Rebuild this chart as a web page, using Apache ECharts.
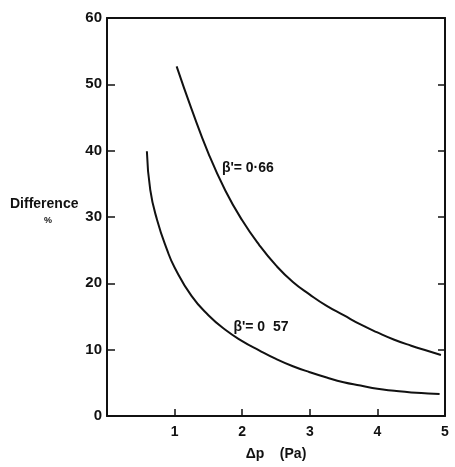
<!DOCTYPE html>
<html style="height: 100%">
<head>
<meta charset="utf-8">
</head>
<body style="height: 100%; margin: 0; background: #fff">
<div id="container" style="width: 455px; height: 467px"></div>
<script src="https://cdn.jsdelivr.net/npm/echarts@6/dist/echarts.min.js"></script>
<script>
// curve for beta' = 0.66
var upperX = [1.03, 1.25, 1.5, 1.75, 2.0, 2.25, 2.5, 2.75, 3.0, 3.25, 3.5, 3.75, 4.0, 4.25, 4.5, 4.75, 4.94];
var upperY = [52.7, 46.3, 39.6, 34.0, 29.5, 25.8, 22.7, 20.2, 18.3, 16.6, 15.2, 13.8, 12.6, 11.5, 10.6, 9.8, 9.2];
// curve for beta' = 0.57
var lowerX = [0.59, 0.64, 0.74, 0.89, 1.0, 1.25, 1.5, 1.75, 2.0, 2.25, 2.5, 2.75, 3.0, 3.25, 3.5, 3.75, 4.0, 4.25, 4.5, 4.75, 4.92];
var lowerY = [39.9, 34.1, 29.6, 25.0, 22.4, 18.1, 15.2, 13.0, 11.3, 9.9, 8.6, 7.5, 6.6, 5.8, 5.1, 4.6, 4.1, 3.8, 3.55, 3.4, 3.3];
var xTicks = [1, 2, 3, 4, 5];
var yTicks = [0, 10, 20, 30, 40, 50, 60];

function pairs(xs, ys) {
    var res = [];
    for (var i = 0; i < xs.length; i++) res.push([xs[i], ys[i]]);
    return res;
}

var font = 'Liberation Sans';
var myChart = echarts.init(document.getElementById('container'));

var axisLine = {show: true, onZero: false, lineStyle: {color: '#111', width: 2}};
var tickStyle = {color: '#111', width: 1.5};

var option = {
    backgroundColor: '#fff',
    animation: false,
    grid: {left: 107, right: 10, top: 18, bottom: 51},
    xAxis: [{
        type: 'value', min: 0, max: 5, interval: 1,
        axisLine: axisLine,
        axisTick: {show: true, inside: true, length: 7, lineStyle: tickStyle},
        splitLine: {show: false},
        axisLabel: {
            color: '#111', fontFamily: font, fontWeight: 'bold', fontSize: 14, margin: 9,
            formatter: function (v) { return xTicks.indexOf(v) >= 0 ? String(v) : ''; }
        },
        name: 'Δp    (Pa)', nameLocation: 'middle', nameGap: 31,
        nameTextStyle: {color: '#111', fontFamily: font, fontWeight: 'bold', fontSize: 14}
    }, {
        type: 'value', min: 0, max: 5, position: 'top',
        axisLine: axisLine, axisTick: {show: false}, axisLabel: {show: false}, splitLine: {show: false}
    }],
    yAxis: [{
        type: 'value', min: 0, max: 60, interval: 10,
        axisLine: axisLine,
        axisTick: {show: true, inside: true, length: 8, lineStyle: tickStyle},
        splitLine: {show: false},
        axisLabel: {
            color: '#111', fontFamily: font, fontWeight: 'bold', fontSize: 15, margin: 5,
            formatter: function (v) { return yTicks.indexOf(v) >= 0 ? String(v) : ''; }
        }
    }, {
        type: 'value', min: 0, max: 60, interval: 10, position: 'right',
        axisLine: axisLine,
        axisTick: {show: true, inside: true, length: 7, lineStyle: tickStyle},
        axisLabel: {show: false}, splitLine: {show: false}
    }],
    graphic: [
        {type: 'text', left: 10, top: 197, style: {text: 'Difference', fill: '#111', font: 'bold 14px "Liberation Sans"'}},
        {type: 'text', left: 44, top: 216, style: {text: '%', fill: '#111', font: 'bold 9px "Liberation Sans"'}}
    ],
    series: [{
        type: 'line', smooth: true, symbol: 'none',
        data: pairs(upperX, upperY),
        lineStyle: {color: '#111', width: 2},
        markPoint: {
            symbol: 'circle', symbolSize: 0,
            label: {show: true, color: '#111', fontFamily: font, fontWeight: 'bold', fontSize: 14,
                    position: 'right', distance: 2, formatter: "β'= 0·66"},
            data: [{coord: [1.67, 37.4]}]
        }
    }, {
        type: 'line', smooth: true, symbol: 'none',
        data: pairs(lowerX, lowerY),
        lineStyle: {color: '#111', width: 2},
        markPoint: {
            symbol: 'circle', symbolSize: 0,
            label: {show: true, color: '#111', fontFamily: font, fontWeight: 'bold', fontSize: 14,
                    position: 'right', distance: 2, formatter: "β'= 0  57"},
            data: [{coord: [1.84, 13.4]}]
        }
    }]
};

myChart.setOption(option);
</script>
</body>
</html>
